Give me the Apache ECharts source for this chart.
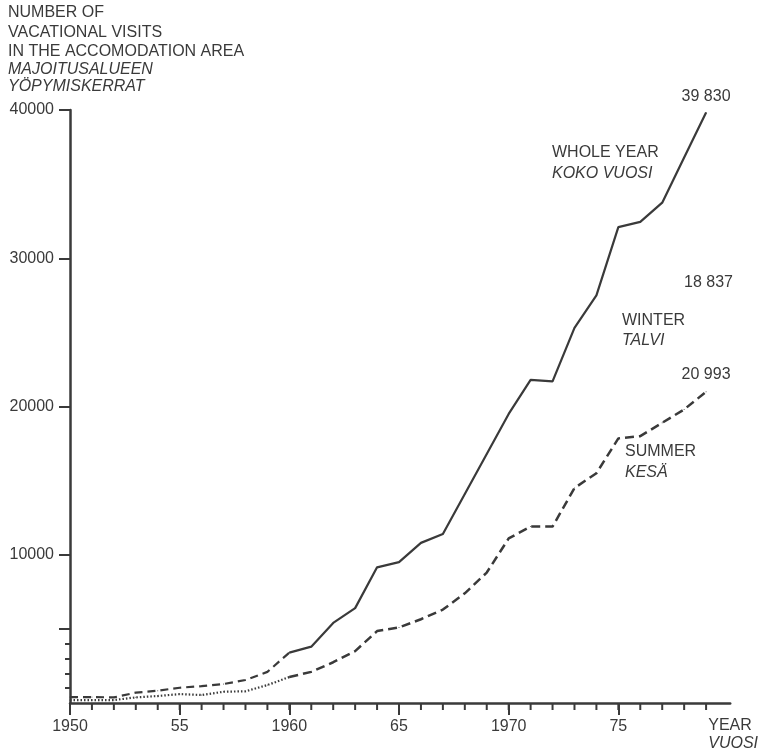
<!DOCTYPE html>
<html>
<head>
<meta charset="utf-8">
<script src="https://cdn.jsdelivr.net/npm/echarts@6/dist/echarts.min.js"></script>
<style>
  html, body { margin: 0; padding: 0; background: #ffffff; }
  #chart { width: 761px; height: 754px; }
</style>
</head>
<body>
<div id="chart"></div>
<script>
// Overnight stays in the accommodation area, 1950–1979
const years = [1950, 1951, 1952, 1953, 1954, 1955, 1956, 1957, 1958, 1959,
               1960, 1961, 1962, 1963, 1964, 1965, 1966, 1967, 1968, 1969,
               1970, 1971, 1972, 1973, 1974, 1975, 1976, 1977, 1978, 1979];
const wholeYear = [400, 400, 380, 700, 830, 1030, 1140, 1280, 1550, 2100,
                   3400, 3800, 5400, 6400, 9150, 9500, 10800, 11400, 14100, 16800,
                   19500, 21800, 21700, 25300, 27500, 32100, 32450, 33750, 36800, 39830];
const summer = [200, 200, 200, 380, 470, 600, 540, 760, 790, 1210,
                1750, 2100, 2750, 3500, 4850, 5100, 5650, 6300, 7400, 8800,
                11100, 11900, 11900, 14500, 15500, 17850, 18000, 18900, 19800, 20993];
const winterTotal = 18837;   // 1979 winter stays (whole year minus summer)
const splitYear = 1960;      // earlier figures are drawn with a lighter line style

const yTickLabels = [10000, 20000, 30000, 40000];
const yLongTicks = [5000, 10000, 20000, 30000, 40000];
const yShortTicks = [1000, 2000, 3000, 4000];
const xMajorTicks = [1950, 1955, 1960, 1965, 1970, 1975];
const xLabelText = { 1950: '1950', 1955: '55', 1960: '1960', 1965: '65', 1970: '1970', 1975: '75' };

const titleLines = [
  { text: 'NUMBER OF', italic: false },
  { text: 'VACATIONAL VISITS', italic: false },
  { text: 'IN THE ACCOMODATION AREA', italic: false },
  { text: 'MAJOITUSALUEEN', italic: true },
  { text: 'YÖPYMISKERRAT', italic: true }
];

const INK = '#3a3a3a';
const FONT = "'Liberation Sans', Arial, sans-serif";

// plot frame: 1950 at the y axis, axis line running a little past 1980
const X_MIN = 1950, X_MAX = 1980.1;
const lastYear = years[years.length - 1];
const YEAR_TICK_LEN = 7;

function fmtThousands(v) {
  const s = String(Math.round(v));
  return s.length > 3 ? s.slice(0, s.length - 3) + ' ' + s.slice(-3) : s;
}

function pairs(values, from, to) {
  const out = [];
  years.forEach((y, i) => {
    if (y >= from && y <= to) out.push([y, values[i]]);
  });
  return out;
}

function withEndLabel(data, distance) {
  const last = data[data.length - 1];
  data[data.length - 1] = {
    value: last,
    label: {
      show: true, position: 'top', distance: distance,
      formatter: p => fmtThousands(p.value[1]),
      color: INK, fontFamily: FONT, fontSize: 16
    }
  };
  return data;
}

const chart = echarts.init(document.getElementById('chart'), null, { renderer: 'canvas' });

const textStyleBase = { fill: INK, font: '16px ' + FONT, textVerticalAlign: 'top' };
const graphics = [];
const titleTops = [5, 25, 44, 62, 79];
titleLines.forEach((ln, i) => {
  graphics.push({
    type: 'text', x: 8, y: titleTops[i],
    style: Object.assign({}, textStyleBase, {
      text: ln.text,
      font: (ln.italic ? 'italic ' : '') + '16px ' + FONT
    })
  });
});
const seriesNotes = [
  { text: 'WHOLE YEAR', x: 552, y: 145, italic: false },
  { text: 'KOKO VUOSI', x: 552, y: 166, italic: true },
  { text: fmtThousands(winterTotal), x: 684, y: 275, italic: false },
  { text: 'WINTER', x: 622, y: 313, italic: false },
  { text: 'TALVI', x: 622, y: 333, italic: true },
  { text: 'SUMMER', x: 625, y: 444, italic: false },
  { text: 'KESÄ', x: 625, y: 465, italic: true }
];
seriesNotes.forEach(n => {
  graphics.push({
    type: 'text', x: n.x, y: n.y,
    style: Object.assign({}, textStyleBase, {
      text: n.text,
      font: (n.italic ? 'italic ' : '') + '16px ' + FONT
    })
  });
});

const lineBase = {
  type: 'line',
  xAxisIndex: 0, yAxisIndex: 0,
  symbol: 'circle', symbolSize: 1,
  showSymbol: true,
  silent: true,
  animation: false,
  itemStyle: { color: INK },
  label: { show: false }
};

const option = {
  backgroundColor: '#ffffff',
  animation: false,
  grid: { left: 70, top: 110, width: 662, height: 593 },
  xAxis: {
    type: 'value', min: X_MIN, max: X_MAX, interval: 5,
    axisLine: { show: true, lineStyle: { color: INK, width: 2.5 } },
    axisTick: { show: true, length: 12, lineStyle: { color: INK, width: 2 }, customValues: xMajorTicks },
    axisLabel: {
      show: true, customValues: xMajorTicks, margin: 16,
      formatter: v => xLabelText[v] || '',
      color: INK, fontFamily: FONT, fontSize: 16
    },
    splitLine: { show: false },
    name: '{a|YEAR}\n{b|VUOSI}',
    nameLocation: 'end',
    nameGap: -22,
    nameTextStyle: {
      align: 'left', verticalAlign: 'top', padding: [14, 0, 0, 0],
      rich: {
        a: { color: INK, fontFamily: FONT, fontSize: 16, lineHeight: 18 },
        b: { color: INK, fontFamily: FONT, fontSize: 16, fontStyle: 'italic', lineHeight: 18 }
      }
    }
  },
  yAxis: [
    {
      type: 'value', min: 0, max: 40000, interval: 10000,
      axisLine: { show: true, lineStyle: { color: INK, width: 2.5 } },
      axisTick: { show: true, length: 11, lineStyle: { color: INK, width: 2 }, customValues: yLongTicks },
      axisLabel: {
        show: true, customValues: yTickLabels, margin: 16,
        formatter: v => String(v),
        color: INK, fontFamily: FONT, fontSize: 16
      },
      splitLine: { show: false }
    },
    {
      type: 'value', min: 0, max: 40000, position: 'left',
      axisLine: { show: false },
      axisTick: { show: true, length: 5, lineStyle: { color: INK, width: 2 }, customValues: yShortTicks },
      axisLabel: { show: false },
      splitLine: { show: false }
    }
  ],
  graphic: graphics,
  series: [
    // one short tick under the axis line for every year
    {
      type: 'custom',
      name: 'Year ticks',
      xAxisIndex: 0, yAxisIndex: 0,
      silent: true, animation: false, clip: false,
      data: years.map(y => [y, 0]),
      renderItem: (params, api) => {
        const p = api.coord([api.value(0), api.value(1)]);
        return {
          type: 'line',
          shape: { x1: p[0], y1: p[1], x2: p[0], y2: p[1] + YEAR_TICK_LEN },
          style: { stroke: INK, lineWidth: 2 }
        };
      }
    },
    Object.assign({}, lineBase, {
      name: 'Whole year (before 1960)',
      data: pairs(wholeYear, years[0], splitYear),
      lineStyle: { color: INK, width: 2.2, type: [8, 5] }
    }),
    Object.assign({}, lineBase, {
      name: 'Whole year',
      data: withEndLabel(pairs(wholeYear, splitYear, lastYear), 7),
      lineStyle: { color: INK, width: 2.2, type: 'solid' }
    }),
    Object.assign({}, lineBase, {
      name: 'Summer (before 1960)',
      data: pairs(summer, years[0], splitYear),
      lineStyle: { color: INK, width: 2.2, type: [1.5, 2] }
    }),
    Object.assign({}, lineBase, {
      name: 'Summer',
      data: withEndLabel(pairs(summer, splitYear, lastYear), 9),
      lineStyle: { color: INK, width: 2.5, type: [9, 5] }
    })
  ]
};

chart.setOption(option);
</script>
</body>
</html>
